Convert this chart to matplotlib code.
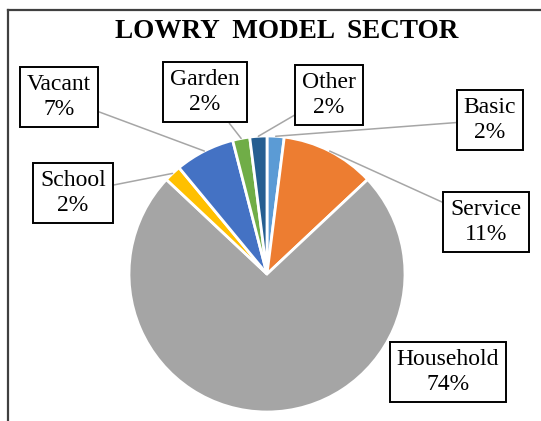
import numpy as np
import matplotlib.pyplot as plt
from matplotlib.lines import Line2D

# data (clockwise from 12 o'clock)
sectors = ['Basic', 'Service', 'Household', 'School', 'Vacant', 'Garden', 'Other']
shares = [2, 11, 74, 2, 7, 2, 2]
colors = ['#5B9BD5', '#ED7D31', '#A5A5A5', '#FFC000', '#4472C4', '#70AD47', '#255E91']

# label box centres in pixels (x, y from top), leader line on/off
box_pos = {'Basic': (490, 120), 'Service': (486, 222), 'Household': (448, 372),
           'School': (73, 193), 'Vacant': (59, 97), 'Garden': (205, 92),
           'Other': (329, 95)}
leader = {'Household': False}

W, H = 541, 421
plt.rcParams['font.family'] = ['Liberation Serif', 'DejaVu Serif']
fig = plt.figure(figsize=(W / 100, H / 100), dpi=100)
ax = fig.add_axes([0, 0, 1, 1])

cx, cy, R = 267, H - 274, 138
wedges, _ = ax.pie(shares, colors=colors, startangle=90, counterclock=False,
                   center=(cx, cy), radius=R,
                   wedgeprops=dict(edgecolor='white', linewidth=2))
ax.set_xlim(0, W)
ax.set_ylim(0, H)
ax.set_aspect('equal')
ax.axis('off')

for w, name, val in zip(wedges, sectors, shares):
    mid = np.deg2rad((w.theta1 + w.theta2) / 2)
    px, py = cx + R * np.cos(mid), cy + R * np.sin(mid)
    bx, by = box_pos[name]
    props = None
    if leader.get(name, True):
        props = dict(arrowstyle='-', color='#A6A6A6', lw=1.1, shrinkA=0, shrinkB=0)
    ax.annotate(f'{name}\n{val}%', xy=(px, py), xytext=(bx, H - by),
                ha='center', va='center', fontsize=17, linespacing=1.3,
                color='black',
                bbox=dict(boxstyle='square,pad=0.3', fc='white', ec='black', lw=1.4),
                arrowprops=props)

ax.text(287, H - 32, 'LOWRY  MODEL  SECTOR', ha='center', va='center',
        fontsize=19.5, fontweight='bold')

# chart frame (only top and left edges are visible)
fig.add_artist(Line2D([8 / W, 1], [1 - 10 / H, 1 - 10 / H], color='#404040', lw=1.6,
                      transform=fig.transFigure))
fig.add_artist(Line2D([8 / W, 8 / W], [0, 1 - 10 / H], color='#404040', lw=1.6,
                      transform=fig.transFigure))

fig.savefig('out.png', dpi=100)
